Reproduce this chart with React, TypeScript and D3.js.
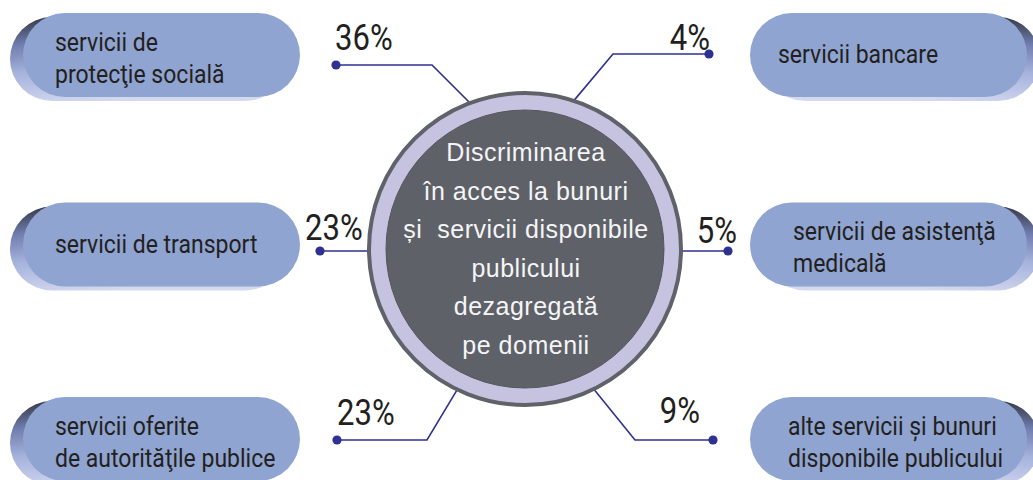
import * as d3 from 'd3';

const W = 1033;
const H = 480;

// domains shown around the circle, share of discrimination cases (%)
const categories = [
  ['servicii de', 'protecţie socială'],
  ['servicii de transport'],
  ['servicii oferite', 'de autorităţile publice'],
  ['servicii bancare'],
  ['servicii de asistenţă', 'medicală'],
  ['alte servicii și bunuri', 'disponibile publicului'],
];
const shares = [36, 23, 23, 4, 5, 9];
const sides = ['left', 'left', 'left', 'right', 'right', 'right'];
const rows = [0, 1, 2, 0, 1, 2];
const titleLines = [
  'Discriminarea',
  'în acces la bunuri',
  'și  servicii disponibile',
  'publicului',
  'dezagregată',
  'pe domenii',
];

// layout
const rowY = d3.scaleLinear().domain([0, 1, 2]).range([55, 244.5, 439]);
const pillLeft = { left: 23, right: 750 } as Record<string, number>;
const PILL_W = 277;
const PILL_H = 84;
const textInset = [32, 32, 32, 28, 43, 38];
const dotX = [336, 320, 337, 709, 728, 713];
const dotDy = [10, 6.5, 1, -1, 6.5, 1];
const elbowX = [432, null, 427, 613, null, 635];
const linkAngle = [45, 0, -59, 130, 180, 231];
const labelDx = [-1, -15, 0, 1, 9, -13];
const labelDy = [-15, -11, -15, -4, -8, -17];

const cx = 525;
const cy = 249;
const R = 158;
const r = 139;

const pillFill = '#8fa4d0';
const lineColor = '#2e3192';
const ink = '#231f20';

function circleHit(ex: number, ey: number, deg: number) {
  const a = (deg * Math.PI) / 180;
  const dx = Math.cos(a), dy = Math.sin(a);
  const ox = ex - cx, oy = ey - cy;
  const b = ox * dx + oy * dy;
  const c = ox * ox + oy * oy - (R - 3) * (R - 3);
  const t = -b - Math.sqrt(Math.max(0, b * b - c));
  return [ex + t * dx, ey + t * dy] as [number, number];
}

const line = d3.line<[number, number]>().x(d => d[0]).y(d => d[1]);

export default function App() {
  return (
    <svg width={W} height={H} viewBox={`0 0 ${W} ${H}`}
      style={{ position: 'absolute', left: 0, top: 0, display: 'block', background: '#fff' }}>
      <defs>
        <linearGradient id="shadeL" x1="0" y1="0" x2="0.35" y2="1">
          <stop offset="0%" stopColor="#2f3139" />
          <stop offset="30%" stopColor="#6f7cae" />
          <stop offset="60%" stopColor="#a5b2dc" />
          <stop offset="100%" stopColor="#d4d9ef" />
        </linearGradient>
        <linearGradient id="shadeR" x1="1" y1="0" x2="0.65" y2="1">
          <stop offset="0%" stopColor="#2f3139" />
          <stop offset="30%" stopColor="#6f7cae" />
          <stop offset="60%" stopColor="#a5b2dc" />
          <stop offset="100%" stopColor="#d4d9ef" />
        </linearGradient>
      </defs>

      {categories.map((lines, i) => {
        const side = sides[i];
        const x0 = pillLeft[side];
        const yc = rowY(rows[i]);
        const off = side === 'left' ? -13 : 13;
        const first = lines.length === 1 ? yc + 8.5 : yc - 4;
        return (
          <g key={'pill' + i}>
            <rect x={x0 + off} y={yc - PILL_H / 2 + 4} width={PILL_W} height={PILL_H}
              rx={PILL_H / 2} fill={`url(#${side === 'left' ? 'shadeL' : 'shadeR'})`} />
            <rect x={x0} y={yc - PILL_H / 2} width={PILL_W} height={PILL_H}
              rx={PILL_H / 2} fill={pillFill} />
            <text transform={`translate(${x0 + textInset[i]},0) scale(0.92,1)`}
              fontFamily="Roboto, 'Noto Sans', sans-serif" fontSize={25} fill={ink}>
              {lines.map((t, j) => (
                <tspan key={j} x={0} y={first + j * 32}>{t}</tspan>
              ))}
            </text>
          </g>
        );
      })}

      {shares.map((v, i) => {
        const yd = rowY(rows[i]) + dotDy[i];
        const xd = dotX[i];
        const ex = elbowX[i] ?? xd;
        const end = circleHit(ex, yd, linkAngle[i]);
        const pts: [number, number][] = elbowX[i] == null
          ? [[xd, yd], end]
          : [[xd, yd], [ex, yd], end];
        const left = sides[i] === 'left';
        return (
          <g key={'link' + i}>
            <path d={line(pts) ?? ''} fill="none" stroke={lineColor} strokeWidth={1.6} />
            <circle cx={xd} cy={yd} r={4.6} fill={lineColor} />
            <text
              transform={`translate(${xd + labelDx[i]},${yd + labelDy[i]}) scale(0.84,1)`}
              textAnchor={left ? 'start' : 'end'}
              fontFamily="Roboto, sans-serif" fontSize={37} fill={ink}>
              {v}%
            </text>
          </g>
        );
      })}

      <circle cx={cx} cy={cy} r={R - 2} fill="#c6c3e1" stroke="#5f6268" strokeWidth={4} />
      <circle cx={cx} cy={cy} r={r} fill="#5e6168" stroke="#54575e" strokeWidth={1} />
      <text fontFamily="'Liberation Sans', Arial, sans-serif" fontSize={25}
        fill="#f5f5f7" textAnchor="middle" letterSpacing={0.5}>
        {titleLines.map((t, j) => (
          <tspan key={j} x={cx + 1} y={161 + j * 38.6} xmlSpace="preserve">{t}</tspan>
        ))}
      </text>
    </svg>
  );
}
